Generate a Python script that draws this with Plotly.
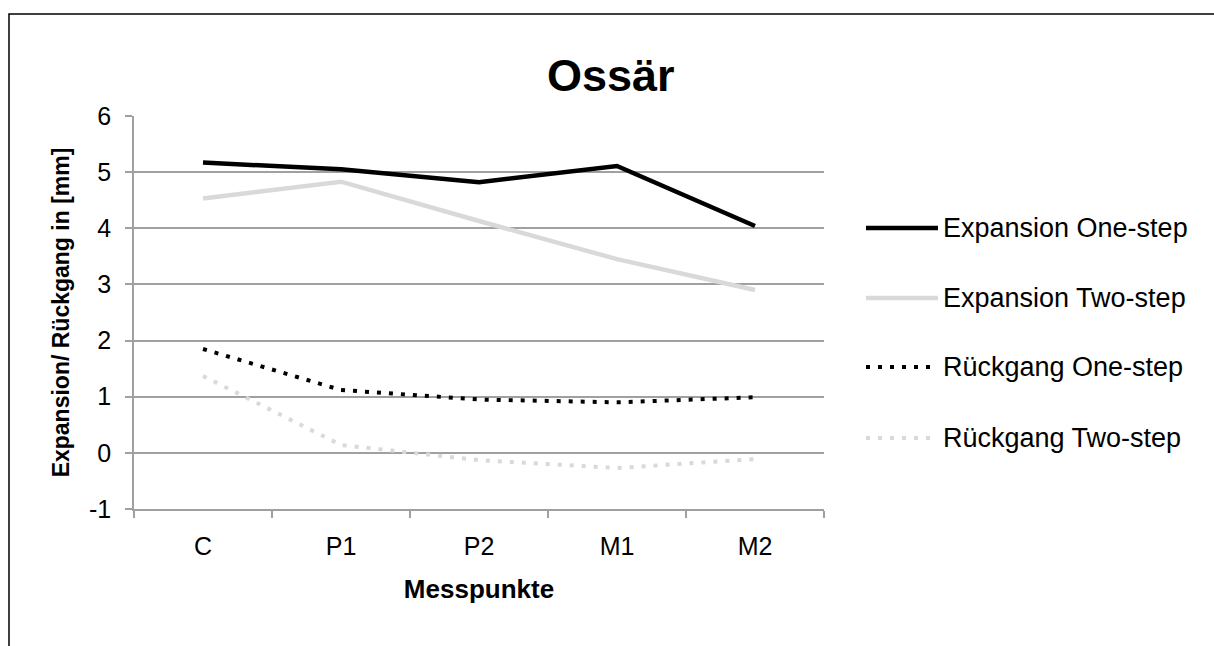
import plotly.graph_objects as go

# Messpunkte (categories)
categories = ["C", "P1", "P2", "M1", "M2"]

# Expansion / Rückgang in mm
expansion_one_step = [5.17, 5.05, 4.82, 5.11, 4.04]
expansion_two_step = [4.53, 4.83, 4.13, 3.45, 2.90]
rueckgang_one_step = [1.85, 1.12, 0.95, 0.90, 0.99]
rueckgang_two_step = [1.37, 0.14, -0.13, -0.27, -0.11]

series_names = ["Expansion One-step", "Expansion Two-step",
                "Rückgang One-step", "Rückgang Two-step"]
y_ticks = [-1, 0, 1, 2, 3, 4, 5, 6]

BLACK = "#000000"
LIGHT = "#d9d9d9"
GRID = "#a0a0a0"
FONT = "Liberation Sans, Arial, sans-serif"
DOTS = "4px,8px"

W, H = 1214, 646
L, R, T, B = 134, 824, 116, 509  # plot area in pixels


def px_x(px):
    return (px - L) / (R - L)


def px_y(py):
    return (B - py) / (B - T)


styles = [
    dict(color=BLACK, width=4.5, dash="solid"),
    dict(color=LIGHT, width=4.5, dash="solid"),
    dict(color=BLACK, width=4, dash=DOTS),
    dict(color=LIGHT, width=4, dash=DOTS),
]
values = [expansion_one_step, expansion_two_step,
          rueckgang_one_step, rueckgang_two_step]

fig = go.Figure()
for name, vals, st in zip(series_names, values, styles):
    fig.add_trace(go.Scatter(
        x=categories, y=vals, name=name, mode="lines",
        line=dict(color=st["color"], width=st["width"], dash=st["dash"]),
        showlegend=False,
    ))

shapes = []
annotations = []

# outer chart frame
shapes.append(dict(type="rect", xref="paper", yref="paper",
                   x0=px_x(9), x1=px_x(1240), y0=px_y(680), y1=px_y(14),
                   line=dict(color="#000000", width=1.5), fillcolor="rgba(0,0,0,0)",
                   layer="below"))

# legend drawn beside the plot
legend_y = [228, 298, 367, 438]
for name, st, ly in zip(series_names, styles, legend_y):
    shapes.append(dict(type="line", xref="paper", yref="paper",
                       x0=px_x(866), x1=px_x(938), y0=px_y(ly), y1=px_y(ly),
                       line=dict(color=st["color"], width=st["width"], dash=st["dash"])))
    annotations.append(dict(text=name, xref="paper", yref="paper",
                            x=px_x(941), y=px_y(ly), xanchor="left", yanchor="middle",
                            showarrow=False, font=dict(family=FONT, size=27, color="#000000")))

# chart title
annotations.append(dict(text="<b>Ossär</b>", xref="paper", yref="paper",
                        x=px_x(611), y=px_y(75), xanchor="center", yanchor="middle",
                        showarrow=False, font=dict(family=FONT, size=45, color="#000000")))

fig.update_layout(
    width=W, height=H,
    margin=dict(l=L, r=W - R, t=T, b=H - B, pad=0),
    paper_bgcolor="#ffffff", plot_bgcolor="#ffffff",
    font=dict(family=FONT, size=25, color="#000000"),
    shapes=shapes, annotations=annotations,
    showlegend=False,
)

fig.update_xaxes(
    type="category", range=[-0.5, 4.5],
    tickson="boundaries", ticks="outside", ticklen=7, tickcolor=GRID, tickwidth=1.5,
    showline=True, linecolor=GRID, linewidth=1.5,
    showgrid=False, zeroline=False,
    tickfont=dict(family=FONT, size=25), ticklabelstandoff=14,
    title=dict(text="<b>Messpunkte</b>", font=dict(family=FONT, size=26), standoff=21),
)
fig.update_yaxes(
    range=[-1, 6], tickvals=y_ticks, ticktext=[str(v) for v in y_ticks],
    ticks="outside", ticklen=7, tickcolor=GRID, tickwidth=1.5,
    showline=True, linecolor=GRID, linewidth=1.5,
    showgrid=True, gridcolor=GRID, gridwidth=1.5, zeroline=False,
    tickfont=dict(family=FONT, size=25), ticklabelstandoff=9,
    title=dict(text="<b>Expansion/ Rückgang in [mm]</b>", font=dict(family=FONT, size=23), standoff=13),
)

fig.write_html("out.html")
